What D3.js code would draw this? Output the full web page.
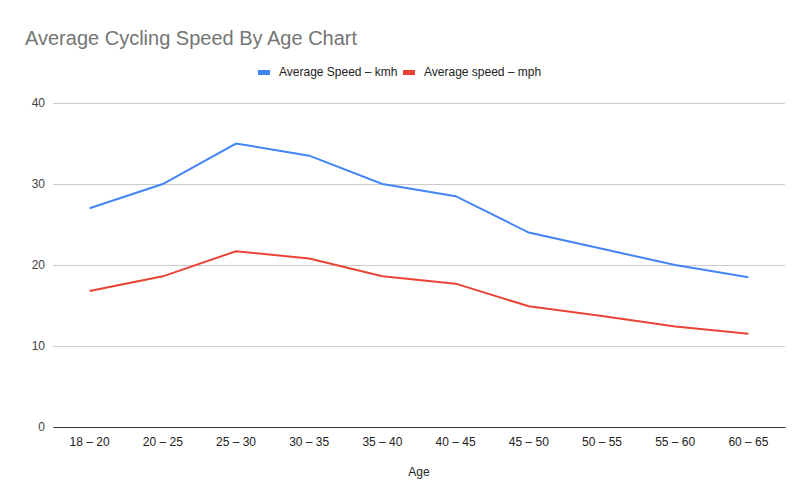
<!DOCTYPE html>
<html>
<head>
<meta charset="utf-8">
<script src="https://cdn.jsdelivr.net/npm/d3@7"></script>
<style>
  body { margin: 0; background: #fff; }
  svg { font-family: "Liberation Sans", Arial, sans-serif; }
</style>
</head>
<body>
<svg id="chart" width="811" height="504"></svg>
<script>
let ages = ["18 – 20", "20 – 25", "25 – 30", "30 – 35", "35 – 40", "40 – 45", "45 – 50", "50 – 55", "55 – 60", "60 – 65"];
let speedKmh = [27, 30, 35, 33.5, 30, 28.5, 24, 22, 20, 18.5];
let speedMph = [16.8, 18.6, 21.7, 20.8, 18.6, 17.7, 14.9, 13.7, 12.4, 11.5];
let yTicks = [0, 10, 20, 30, 40];
let seriesNames = ["Average Speed – kmh", "Average speed – mph"];
let colors = ["#4285F4", "#EA4335"];

let svg = d3.select("#chart");

let margin = { top: 103, right: 26, bottom: 77, left: 53 };
let plotWidth = 811 - margin.left - margin.right;
let plotHeight = 504 - margin.top - margin.bottom;

let x = d3.scaleBand()
  .domain(ages)
  .range([0, plotWidth]);
let y = d3.scaleLinear()
  .domain([0, 40])
  .range([plotHeight, 0]);

let plot = svg.append("g")
  .attr("transform", "translate(" + margin.left + "," + margin.top + ")");

// gridlines
let gridlines = d3.axisLeft(y)
  .tickValues(yTicks)
  .tickFormat("")
  .tickSize(-plotWidth);
plot.append("g")
  .call(gridlines)
  .call(g => g.select(".domain").remove())
  .selectAll("line")
  .attr("stroke", "#cccccc");

// y axis labels
let yAxis = d3.axisLeft(y)
  .tickValues(yTicks)
  .tickSize(0)
  .tickPadding(8);
plot.append("g")
  .call(yAxis)
  .call(g => g.select(".domain").remove())
  .selectAll("text")
  .attr("font-size", 12)
  .attr("fill", "#444444");

// x axis
let xAxis = d3.axisBottom(x)
  .tickSize(0)
  .tickPadding(10);
let xg = plot.append("g")
  .attr("transform", "translate(0," + plotHeight + ")")
  .call(xAxis);
xg.select(".domain").attr("stroke", "#333333");
xg.selectAll("text")
  .attr("font-size", 12)
  .attr("fill", "#222222");

// lines
let lineFunction = d3.line()
  .x((d, i) => x(ages[i]) + x.bandwidth() / 2)
  .y(d => y(d));

[speedKmh, speedMph].forEach(function(s, i) {
  plot.append("path")
    .attr("d", lineFunction(s))
    .attr("stroke", colors[i])
    .attr("stroke-width", 2)
    .attr("fill", "none");
});

// title
svg.append("text")
  .attr("x", 25)
  .attr("y", 45)
  .attr("font-size", 20)
  .attr("fill", "#757575")
  .text("Average Cycling Speed By Age Chart");

// axis title
svg.append("text")
  .attr("x", margin.left + plotWidth / 2)
  .attr("y", 476)
  .attr("text-anchor", "middle")
  .attr("font-size", 12)
  .attr("fill", "#222222")
  .text("Age");

// legend
let legendX = [258, 403];
seriesNames.forEach(function(name, i) {
  svg.append("rect")
    .attr("x", legendX[i])
    .attr("y", 70)
    .attr("width", 12)
    .attr("height", 5)
    .attr("fill", colors[i]);
  svg.append("text")
    .attr("x", legendX[i] + 21)
    .attr("y", 76)
    .attr("font-size", 12)
    .attr("fill", "#222222")
    .text(name);
});
</script>
</body>
</html>
